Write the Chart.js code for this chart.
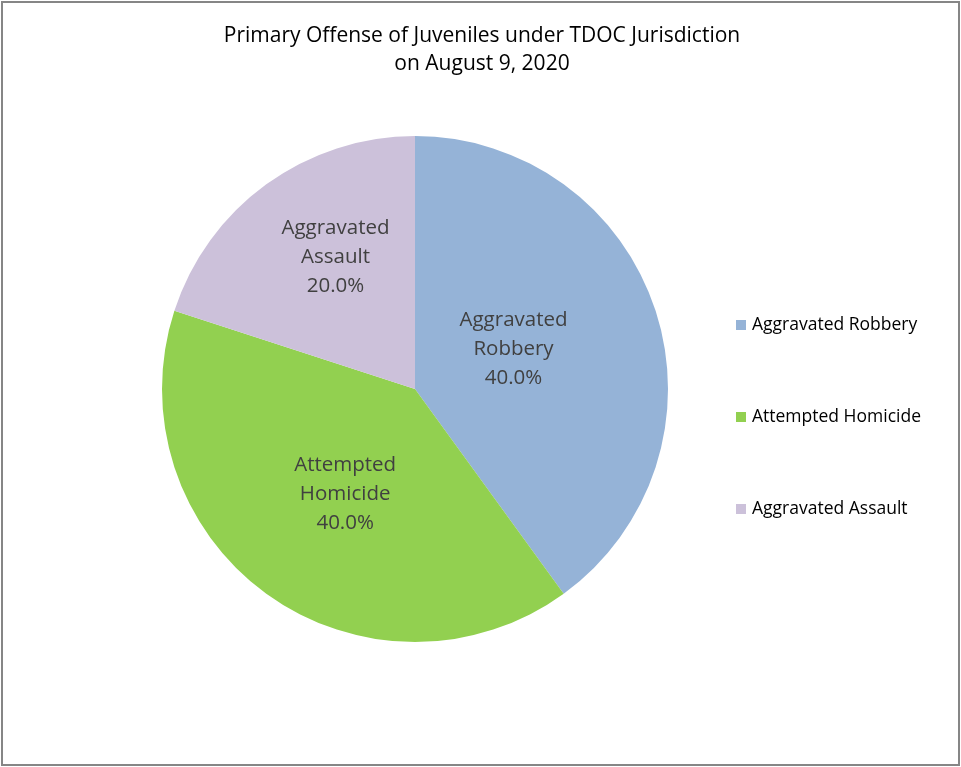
<!DOCTYPE html>
<html>
<head>
<meta charset="utf-8">
<script src="https://cdn.jsdelivr.net/npm/chart.js@4/dist/chart.umd.min.js"></script>
<style>
html,body{margin:0;padding:0;background:#fff;}
#wrap{position:absolute;left:0;top:0;width:961px;height:767px;}
</style>
</head>
<body>
<div id="wrap"><canvas id="c" width="961" height="767"></canvas></div>
<script>
const titleLines = ["Primary Offense of Juveniles under TDOC Jurisdiction", "on August 9, 2020"];
const categories = ["Aggravated Robbery", "Attempted Homicide", "Aggravated Assault"];
const sliceLabels = [["Aggravated", "Robbery"], ["Attempted", "Homicide"], ["Aggravated", "Assault"]];
const values = [40, 40, 20];
const colors = ["#95B3D7", "#92D050", "#CCC1DA"];

const FONT = "'Open Sans', 'Liberation Sans', sans-serif";
// label placement: [fraction of radius, angle shift in degrees]
const labelPlace = [[0.42, -4], [0.50, -2.5], [0.61, 5]];

const decor = {
  id: 'decor',
  beforeDraw(chart) {
    const ctx = chart.ctx;
    ctx.save();
    ctx.fillStyle = '#fff';
    ctx.fillRect(0, 0, chart.width, chart.height);
    ctx.strokeStyle = '#868686';
    ctx.lineWidth = 2;
    ctx.strokeRect(2, 2, chart.width - 4, chart.height - 4);
    ctx.restore();
  },
  afterDraw(chart) {
    const ctx = chart.ctx;
    ctx.save();
    // title
    ctx.fillStyle = '#000';
    ctx.font = "21px " + FONT;
    ctx.textAlign = 'center';
    ctx.textBaseline = 'middle';
    ctx.fillText(titleLines[0], 482, 36);
    ctx.fillText(titleLines[1], 482, 64);
    // slice labels
    const meta = chart.getDatasetMeta(0);
    const total = values.reduce((a, b) => a + b, 0);
    ctx.fillStyle = '#404040';
    ctx.font = "20.5px " + FONT;
    meta.data.forEach((arc, i) => {
      const mid = (arc.startAngle + arc.endAngle) / 2 + labelPlace[i][1] * Math.PI / 180;
      const r = arc.outerRadius * labelPlace[i][0];
      const px = arc.x + Math.cos(mid) * r;
      const py = arc.y + Math.sin(mid) * r;
      const pct = (values[i] / total * 100).toFixed(1) + '%';
      const lines = [...sliceLabels[i], pct];
      const lh = 29;
      lines.forEach((t, k) => {
        ctx.fillText(t, px, py + (k - 1) * lh);
      });
    });
    // legend
    ctx.textAlign = 'left';
    ctx.font = "17.5px " + FONT;
    const lx = 736, ly0 = 325, dy = 92;
    categories.forEach((c, i) => {
      const y = ly0 + i * dy;
      ctx.fillStyle = colors[i];
      ctx.fillRect(lx, y - 5, 10, 10);
      ctx.fillStyle = '#000';
      ctx.fillText(c, lx + 16, y);
    });
    ctx.restore();
  }
};

new Chart(document.getElementById('c'), {
  type: 'pie',
  data: {
    labels: categories,
    datasets: [{
      data: values,
      backgroundColor: colors,
      borderWidth: 0
    }]
  },
  options: {
    responsive: false,
    animation: false,
    layout: { padding: { left: 162, right: 293, top: 136, bottom: 125 } },
    plugins: {
      legend: { display: false },
      title: { display: false },
      tooltip: { enabled: false }
    }
  },
  plugins: [decor]
});
</script>
</body>
</html>
